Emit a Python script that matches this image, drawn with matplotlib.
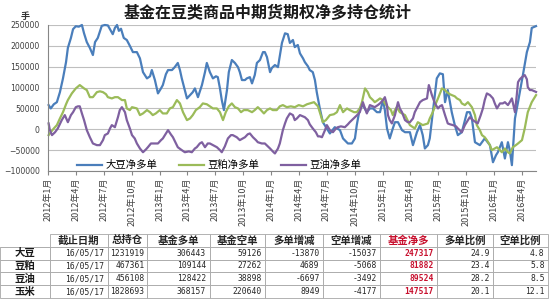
import numpy as np
import pandas as pd
import matplotlib
matplotlib.use("Agg")
import matplotlib.pyplot as plt
import matplotlib.dates as mdates
from matplotlib.ticker import FuncFormatter

plt.rcParams['font.family'] = ['Noto Sans CJK SC', 'DejaVu Sans']

# ---- chart data ----
dadou_dates = [
    '2012-01-03', '2012-01-10', '2012-01-20', '2012-01-30', '2012-02-09', '2012-02-19', '2012-02-29',
    '2012-03-06', '2012-03-16', '2012-03-23', '2012-04-01', '2012-04-11', '2012-04-21', '2012-04-28',
    '2012-05-07', '2012-05-17', '2012-05-27', '2012-06-03', '2012-06-12', '2012-06-25', '2012-07-05',
    '2012-07-15', '2012-07-25', '2012-07-31', '2012-08-07', '2012-08-14', '2012-08-20', '2012-08-27',
    '2012-09-05', '2012-09-15', '2012-09-25', '2012-10-05', '2012-10-18', '2012-10-28', '2012-11-07',
    '2012-11-20', '2012-11-30', '2012-12-06', '2012-12-16', '2012-12-26', '2013-01-05', '2013-01-11',
    '2013-01-21', '2013-01-28', '2013-02-10', '2013-02-19', '2013-03-01', '2013-03-08', '2013-03-14',
    '2013-03-24', '2013-03-31', '2013-04-10', '2013-04-19', '2013-04-26', '2013-05-06', '2013-05-19',
    '2013-05-29', '2013-06-04', '2013-06-14', '2013-06-24', '2013-07-04', '2013-07-10', '2013-07-17',
    '2013-07-23', '2013-07-30', '2013-08-09', '2013-08-15', '2013-08-25', '2013-09-04', '2013-09-14',
    '2013-09-20', '2013-09-27', '2013-10-07', '2013-10-13', '2013-10-23', '2013-10-30', '2013-11-08',
    '2013-11-15', '2013-11-25', '2013-12-05', '2013-12-11', '2013-12-18', '2013-12-28', '2014-01-03',
    '2014-01-13', '2014-01-23', '2014-02-05', '2014-02-15', '2014-02-24', '2014-03-03', '2014-03-13',
    '2014-03-19', '2014-03-29', '2014-04-05', '2014-04-15', '2014-04-21', '2014-05-01', '2014-05-07',
    '2014-05-17', '2014-05-24', '2014-05-30', '2014-06-09', '2014-06-19', '2014-07-02', '2014-07-12',
    '2014-07-28', '2014-08-14', '2014-08-24', '2014-09-09', '2014-09-22', '2014-10-02', '2014-10-08',
    '2014-10-18', '2014-10-28', '2014-11-10', '2014-11-20', '2014-11-30', '2014-12-13', '2014-12-23',
    '2015-01-02', '2015-01-08', '2015-01-15', '2015-01-24', '2015-02-03', '2015-02-10', '2015-02-20',
    '2015-03-05', '2015-03-15', '2015-03-31', '2015-04-10', '2015-04-23', '2015-05-03', '2015-05-12',
    '2015-05-19', '2015-05-29', '2015-06-04', '2015-06-14', '2015-06-27', '2015-07-07', '2015-07-17',
    '2015-07-24', '2015-08-02', '2015-08-15', '2015-08-25', '2015-09-04', '2015-09-17', '2015-10-04',
    '2015-10-13', '2015-10-20', '2015-10-30', '2015-11-15', '2015-12-01', '2015-12-18', '2015-12-28',
    '2016-01-07', '2016-01-13', '2016-01-26', '2016-02-05', '2016-02-15', '2016-02-21', '2016-02-28',
    '2016-03-09', '2016-03-19', '2016-04-04', '2016-04-17', '2016-04-27', '2016-05-03', '2016-05-17']
dadou_net = [
    58000, 50000, 60000, 65000, 89000, 122000, 161000,
    195000, 219000, 240000, 247000, 246000, 250000, 230000,
    209000, 195000, 178000, 209000, 219000, 248000, 250000,
    249000, 236000, 228000, 243000, 250000, 236000, 241000,
    219000, 214000, 200000, 185000, 185000, 170000, 137000,
    122000, 127000, 142000, 118000, 86000, 98000, 106000,
    132000, 142000, 142000, 149000, 159000, 142000, 122000,
    94000, 74000, 82000, 89000, 98000, 77000, 106000,
    137000, 159000, 137000, 122000, 127000, 125000, 98000,
    70000, 46000, 94000, 137000, 166000, 159000, 149000,
    137000, 118000, 118000, 122000, 125000, 110000, 130000,
    159000, 166000, 185000, 185000, 173000, 137000, 147000,
    154000, 149000, 207000, 230000, 228000, 207000, 214000,
    197000, 202000, 182000, 170000, 161000, 151000, 142000,
    137000, 118000, 89000, 50000, 17000, 2000, -10000,
    5000, -2000, -22000, -34000, -34000, -22000, 10000,
    50000, 58000, 41000, 50000, 50000, 41000, 41000,
    70000, 46000, 2000, -22000, 2000, 17000, 17000,
    -2000, -7000, -7000, -38000, -7000, 10000, -14000,
    -46000, -38000, -22000, 41000, 122000, 134000, 132000,
    65000, 94000, 41000, 10000, -14000, -7000, 41000,
    41000, 26000, -31000, -38000, -22000, -38000, -79000,
    -62000, -55000, -31000, -70000, -31000, -50000, -86000,
    26000, 65000, 130000, 185000, 209000, 243000, 247317]

doupo_dates = [
    '2012-01-03', '2012-01-10', '2012-01-20', '2012-01-30', '2012-02-09', '2012-02-19', '2012-02-29',
    '2012-03-06', '2012-03-19', '2012-04-01', '2012-04-14', '2012-04-28', '2012-05-07', '2012-05-17',
    '2012-05-27', '2012-06-09', '2012-06-19', '2012-06-29', '2012-07-09', '2012-07-15', '2012-07-28',
    '2012-08-07', '2012-08-17', '2012-08-30', '2012-09-09', '2012-09-15', '2012-09-25', '2012-10-02',
    '2012-10-18', '2012-10-28', '2012-11-07', '2012-11-20', '2012-11-30', '2012-12-09', '2012-12-19',
    '2013-01-01', '2013-01-11', '2013-01-24', '2013-02-03', '2013-02-13', '2013-02-26', '2013-03-08',
    '2013-03-18', '2013-03-31', '2013-04-10', '2013-04-19', '2013-04-29', '2013-05-12', '2013-05-22',
    '2013-06-04', '2013-06-14', '2013-06-24', '2013-07-07', '2013-07-17', '2013-07-27', '2013-08-05',
    '2013-08-15', '2013-08-25', '2013-09-04', '2013-09-14', '2013-09-24', '2013-10-03', '2013-10-16',
    '2013-10-30', '2013-11-08', '2013-11-18', '2013-11-28', '2013-12-08', '2013-12-18', '2013-12-28',
    '2014-01-06', '2014-01-19', '2014-01-29', '2014-02-08', '2014-02-21', '2014-03-06', '2014-03-19',
    '2014-04-01', '2014-04-15', '2014-04-28', '2014-05-07', '2014-05-21', '2014-06-03', '2014-06-09',
    '2014-06-19', '2014-06-29', '2014-07-12', '2014-07-25', '2014-08-04', '2014-08-14', '2014-08-24',
    '2014-09-06', '2014-09-15', '2014-09-29', '2014-10-08', '2014-10-18', '2014-10-25', '2014-11-04',
    '2014-11-13', '2014-11-20', '2014-11-30', '2014-12-06', '2014-12-16', '2014-12-23', '2015-01-02',
    '2015-01-08', '2015-01-18', '2015-01-28', '2015-02-03', '2015-02-10', '2015-02-16', '2015-02-26',
    '2015-03-15', '2015-03-31', '2015-04-16', '2015-04-26', '2015-05-12', '2015-05-29', '2015-06-04',
    '2015-06-14', '2015-06-24', '2015-07-01', '2015-07-14', '2015-07-24', '2015-07-30', '2015-08-09',
    '2015-08-15', '2015-08-25', '2015-09-01', '2015-09-11', '2015-09-17', '2015-09-27', '2015-10-07',
    '2015-10-20', '2015-10-30', '2015-11-05', '2015-11-15', '2015-11-22', '2015-12-01', '2015-12-08',
    '2015-12-18', '2015-12-24', '2016-01-03', '2016-01-10', '2016-01-20', '2016-01-26', '2016-02-05',
    '2016-02-15', '2016-02-21', '2016-03-02', '2016-03-12', '2016-03-19', '2016-04-01', '2016-04-10',
    '2016-04-20', '2016-05-03', '2016-05-17']
doupo_net = [
    -14000, -7000, 2000, 10000, 26000, 41000, 60000,
    70000, 86000, 98000, 106000, 98000, 94000, 77000,
    77000, 89000, 91000, 89000, 84000, 77000, 74000,
    77000, 77000, 70000, 70000, 50000, 46000, 53000,
    50000, 34000, 38000, 46000, 41000, 34000, 38000,
    46000, 38000, 38000, 50000, 53000, 70000, 62000,
    41000, 22000, 26000, 34000, 46000, 53000, 62000,
    60000, 55000, 50000, 50000, 41000, 22000, 41000,
    55000, 62000, 53000, 50000, 41000, 46000, 46000,
    41000, 46000, 53000, 46000, 38000, 46000, 50000,
    46000, 46000, 55000, 58000, 53000, 55000, 53000,
    58000, 55000, 60000, 62000, 65000, 55000, 41000,
    17000, 22000, 34000, 36000, 41000, 58000, 41000,
    50000, 46000, 41000, 41000, 50000, 65000, 98000,
    89000, 77000, 70000, 65000, 70000, 74000, 70000,
    62000, 53000, 46000, 34000, 46000, 53000, 41000,
    34000, 10000, 2000, 17000, 10000, 14000, 26000,
    41000, 62000, 74000, 98000, 94000, 89000, 84000,
    82000, 79000, 74000, 70000, 62000, 58000, 65000,
    53000, 34000, 10000, -2000, -14000, -19000, -26000,
    -38000, -50000, -46000, -43000, -50000, -55000, -46000,
    -55000, -58000, -43000, -38000, -34000, -26000, 2000,
    41000, 65000, 81882]

douyou_dates = [
    '2012-01-03', '2012-01-07', '2012-01-14', '2012-01-24', '2012-02-02', '2012-02-15', '2012-02-25',
    '2012-03-06', '2012-03-16', '2012-03-23', '2012-04-01', '2012-04-08', '2012-04-14', '2012-04-21',
    '2012-04-28', '2012-05-07', '2012-05-17', '2012-05-27', '2012-06-09', '2012-06-19', '2012-06-29',
    '2012-07-05', '2012-07-15', '2012-07-22', '2012-07-28', '2012-08-07', '2012-08-17', '2012-08-23',
    '2012-08-30', '2012-09-09', '2012-09-15', '2012-09-25', '2012-10-02', '2012-10-11', '2012-10-18',
    '2012-10-28', '2012-11-07', '2012-11-17', '2012-11-23', '2012-12-03', '2012-12-16', '2012-12-26',
    '2013-01-05', '2013-01-11', '2013-01-21', '2013-01-28', '2013-02-06', '2013-02-13', '2013-02-23',
    '2013-03-01', '2013-03-14', '2013-03-24', '2013-04-06', '2013-04-16', '2013-04-26', '2013-05-02',
    '2013-05-12', '2013-05-19', '2013-05-29', '2013-06-07', '2013-06-14', '2013-06-24', '2013-07-07',
    '2013-07-17', '2013-07-23', '2013-08-02', '2013-08-12', '2013-08-22', '2013-08-28', '2013-09-10',
    '2013-09-20', '2013-09-30', '2013-10-07', '2013-10-16', '2013-10-23', '2013-11-02', '2013-11-12',
    '2013-11-18', '2013-12-01', '2013-12-11', '2013-12-21', '2013-12-28', '2014-01-06', '2014-01-13',
    '2014-01-23', '2014-01-29', '2014-02-08', '2014-02-15', '2014-02-21', '2014-03-03', '2014-03-13',
    '2014-03-19', '2014-03-26', '2014-04-05', '2014-04-15', '2014-04-21', '2014-05-01', '2014-05-07',
    '2014-05-17', '2014-05-27', '2014-06-03', '2014-06-09', '2014-06-16', '2014-06-26', '2014-07-02',
    '2014-07-12', '2014-07-22', '2014-08-01', '2014-08-07', '2014-08-17', '2014-08-30', '2014-09-09',
    '2014-09-15', '2014-09-25', '2014-10-02', '2014-10-12', '2014-10-18', '2014-10-28', '2014-11-04',
    '2014-11-10', '2014-11-20', '2014-11-30', '2014-12-06', '2014-12-16', '2014-12-23', '2015-01-02',
    '2015-01-08', '2015-01-15', '2015-01-18', '2015-01-24', '2015-01-31', '2015-02-10', '2015-02-20',
    '2015-02-26', '2015-03-05', '2015-03-15', '2015-03-24', '2015-03-31', '2015-04-10', '2015-04-16',
    '2015-04-26', '2015-05-03', '2015-05-12', '2015-05-26', '2015-06-01', '2015-06-11', '2015-06-21',
    '2015-07-01', '2015-07-07', '2015-07-14', '2015-07-24', '2015-08-02', '2015-08-09', '2015-08-19',
    '2015-08-29', '2015-09-04', '2015-09-17', '2015-09-27', '2015-10-07', '2015-10-13', '2015-10-23',
    '2015-11-02', '2015-11-08', '2015-11-18', '2015-11-25', '2015-12-01', '2015-12-08', '2015-12-18',
    '2015-12-28', '2016-01-03', '2016-01-10', '2016-01-20', '2016-01-29', '2016-02-05', '2016-02-15',
    '2016-02-21', '2016-02-28', '2016-03-09', '2016-03-15', '2016-03-19', '2016-03-25', '2016-04-01',
    '2016-04-10', '2016-04-17', '2016-04-20', '2016-04-27', '2016-05-03', '2016-05-17']
douyou_net = [
    14000, -2000, -14000, -7000, 2000, 22000, 34000,
    17000, 34000, 41000, 53000, 55000, 55000, 38000,
    22000, -2000, -19000, -34000, -38000, -38000, -26000,
    -14000, -10000, 2000, 10000, 5000, 29000, 46000,
    53000, 41000, 22000, 2000, -14000, -22000, -34000,
    -46000, -55000, -48000, -43000, -34000, -34000, -34000,
    -26000, -22000, -10000, -2000, -12000, -19000, -34000,
    -43000, -50000, -55000, -53000, -55000, -46000, -43000,
    -34000, -31000, -43000, -34000, -34000, -38000, -43000,
    -50000, -55000, -41000, -22000, -14000, -14000, -19000,
    -26000, -22000, -19000, -12000, -10000, -19000, -26000,
    -31000, -34000, -34000, -41000, -46000, -53000, -58000,
    -46000, -34000, -2000, 14000, 26000, 38000, 34000,
    22000, 26000, 34000, 31000, 29000, 22000, 12000,
    2000, -7000, -17000, -17000, -19000, -2000, 10000,
    -2000, -7000, 2000, 5000, 7000, 5000, 12000,
    17000, 24000, 29000, 36000, 41000, 65000, 50000,
    38000, 58000, 55000, 53000, 58000, 62000, 70000,
    77000, 58000, 34000, 22000, 14000, 34000, 65000,
    50000, 41000, 22000, 17000, 17000, 26000, 41000,
    55000, 65000, 70000, 74000, 106000, 82000, 62000,
    50000, 55000, 58000, 34000, 14000, 12000, 10000,
    7000, 2000, -7000, 10000, 22000, 29000, 22000,
    17000, 14000, 34000, 50000, 70000, 86000, 82000,
    74000, 62000, 50000, 62000, 62000, 65000, 58000,
    65000, 74000, 41000, 82000, 113000, 120000, 125000,
    130000, 120000, 101000, 94000, 94000, 89524]

series_labels = ['大豆净多单', '豆粕净多单', '豆油净多单']
series_colors = ['#4a7ebb', '#9bbb59', '#7f60a0']

# ---- table data ----
tbl_rows = ['大豆', '豆粕', '豆油', '玉米']
tbl_header = ['截止日期', '总持仓', '基金多单', '基金空单', '多单增减', '空单增减',
              '基金净多', '多单比例', '空单比例']
tbl_date = ['16/05/17', '16/05/17', '16/05/17', '16/05/17']
tbl_total = [1231919, 467361, 456108, 1828693]
tbl_long = [306443, 109144, 128422, 368157]
tbl_short = [59126, 27262, 38898, 220640]
tbl_long_chg = [-13870, 4689, -6697, 8949]
tbl_short_chg = [-15037, -5068, -3492, -4177]
tbl_net = [247317, 81882, 89524, 147517]
tbl_long_pct = [24.9, 23.4, 28.2, 20.1]
tbl_short_pct = [4.8, 5.8, 8.5, 12.1]

fig = plt.figure(figsize=(5.5, 3), dpi=100)
fig.patch.set_facecolor('white')

ax = fig.add_axes([0.0873, 0.43, 0.8873, 0.4867])
for d, v, lab, c in zip([dadou_dates, doupo_dates, douyou_dates],
                        [dadou_net, doupo_net, douyou_net],
                        series_labels, series_colors):
    ax.plot(pd.to_datetime(d), v, color=c, lw=1.6, label=lab, clip_on=False,
            solid_joinstyle='round')

ax.set_ylim(-100000, 250000)
ax.set_yticks(np.arange(-100000, 250001, 50000))
ax.set_xlim(pd.Timestamp('2012-01-01'), pd.Timestamp('2016-05-17'))
ax.xaxis.set_major_locator(mdates.MonthLocator(bymonth=[1, 4, 7, 10]))
ax.xaxis.set_major_formatter(FuncFormatter(
    lambda x, pos: f"{mdates.num2date(x).year}年{mdates.num2date(x).month}月"))
ax.tick_params(axis='x', labelsize=6.5, rotation=90, length=3, color='#868686',
               labelcolor='#404040', pad=2)
ax.tick_params(axis='y', labelsize=5.6, length=0, labelcolor='#404040', pad=6)
for lbl in ax.get_yticklabels():
    lbl.set_family('DejaVu Sans')
ax.grid(axis='y', color='#bfbfbf', lw=0.8)
ax.set_axisbelow(True)
for s in ['top', 'right']:
    ax.spines[s].set_visible(False)
for s in ['left', 'bottom']:
    ax.spines[s].set_color('#868686')
    ax.spines[s].set_linewidth(0.8)

ax.legend(loc='upper left', bbox_to_anchor=(72 / 550, 1 - 155 / 300),
          bbox_transform=fig.transFigure, ncol=3, frameon=False, fontsize=7.5,
          handlelength=2.4, handletextpad=0.3, columnspacing=2.1, borderpad=0)

fig.text(0.486, 0.957, '基金在豆类商品中期货期权净多持仓统计', ha='center', va='center',
         fontsize=11.5, fontweight='bold', color='#1a1a1a')
fig.text(25 / 550, 1 - 17 / 300, '手', ha='center', va='center', fontsize=6.5,
         fontweight='bold', color='#333333')

# ---- table ----
tax = fig.add_axes([0, 0.0067, 548 / 550, 0.2133])
tax.axis('off')
cells = [[''] + tbl_header]
for i, name in enumerate(tbl_rows):
    cells.append([name, tbl_date[i], str(tbl_total[i]), str(tbl_long[i]), str(tbl_short[i]),
                  str(tbl_long_chg[i]), str(tbl_short_chg[i]), str(tbl_net[i]),
                  f"{tbl_long_pct[i]:.1f}", f"{tbl_short_pct[i]:.1f}"])
col_w = np.array([50, 58, 39, 63, 55, 58, 57, 57, 56, 55], dtype=float)
table = tax.table(cellText=cells, colWidths=list(col_w / col_w.sum()),
                  bbox=[0, 0, 1, 1], cellLoc='right')
table.auto_set_font_size(False)
red = '#c8102e'
for (r, c), cell in table.get_celld().items():
    cell.set_edgecolor('#a6a6a6')
    cell.set_linewidth(0.6)
    cell.PAD = 0.06
    txt = cell.get_text()
    if r == 0:
        txt.set_ha('center')
        cell._loc = 'center'
        txt.set_fontsize(7.5)
        txt.set_fontweight('bold')
        txt.set_color(red if c == 7 else '#262626')
        if c == 0:
            cell.visible_edges = 'B'
    elif c == 0:
        cell._loc = 'center'
        txt.set_ha('center')
        txt.set_fontsize(7.5)
        txt.set_fontweight('bold')
        txt.set_color('#1a1a1a')
    else:
        txt.set_family(['DejaVu Sans Mono'])
        txt.set_fontsize(5.8)
        txt.set_color('#262626')
        if c == 7:
            txt.set_color(red)
            txt.set_fontweight('bold')

fig.savefig('out.png', dpi=100)
